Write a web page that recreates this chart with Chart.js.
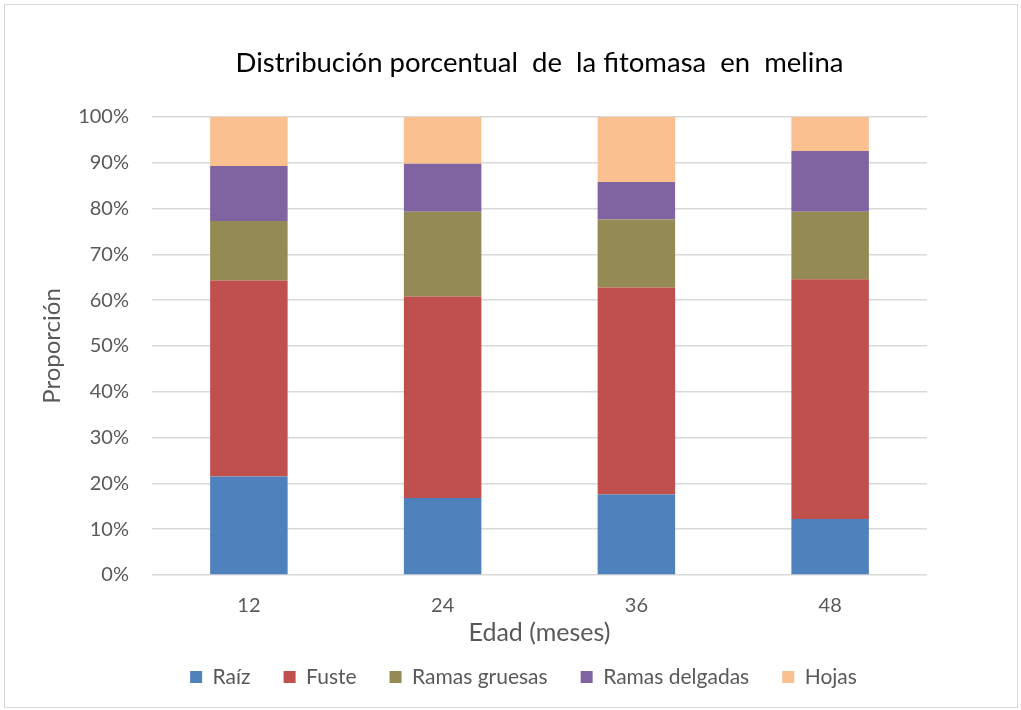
<!DOCTYPE html>
<html>
<head>
<meta charset="utf-8">
<script src="https://cdn.jsdelivr.net/npm/chart.js@4/dist/chart.umd.min.js"></script>
<style>
  html, body { margin: 0; padding: 0; background: #fff; }
  #wrap { width: 1021px; height: 710px; position: relative; }
</style>
</head>
<body>
<div id="wrap"><canvas id="c" width="1021" height="710"></canvas></div>
<script>
const categories = ['12', '24', '36', '48'];
const raiz          = [21.5, 16.8, 17.6, 12.2];
const fuste         = [42.8, 44.0, 45.2, 52.4];
const ramasGruesas  = [13.0, 18.5, 14.8, 14.7];
const ramasDelgadas = [12.0, 10.5,  8.2, 13.3];
const hojas         = [10.7, 10.2, 14.2,  7.4];
const seriesNames   = ['Raíz', 'Fuste', 'Ramas gruesas', 'Ramas delgadas', 'Hojas'];
const seriesColors  = ['#4f81bd', '#c0504d', '#948a54', '#8064a2', '#fac090'];
const chartTitle = 'Distribución porcentual  de  la fitomasa  en  melina';
const xTitle = 'Edad (meses)';
const yTitle = 'Proporción';

const FONT = 'Lato, "Open Sans", sans-serif';
const GREY = '#595959';

const borderPlugin = {
  id: 'outerBorder',
  beforeDraw(chart) {
    const ctx = chart.ctx;
    ctx.save();
    ctx.fillStyle = '#fff';
    ctx.fillRect(0, 0, chart.width, chart.height);
    ctx.strokeStyle = '#d9d9d9';
    ctx.lineWidth = 1;
    ctx.strokeRect(4.5, 4.5, 1013, 703);
    ctx.restore();
  }
};

const allSeries = [raiz, fuste, ramasGruesas, ramasDelgadas, hojas];

new Chart(document.getElementById('c'), {
  type: 'bar',
  data: {
    labels: categories,
    datasets: allSeries.map((d, i) => ({
      label: seriesNames[i],
      data: d,
      backgroundColor: seriesColors[i],
      borderWidth: 0,
      categoryPercentage: 0.4,
      barPercentage: 1.0
    }))
  },
  options: {
    responsive: false,
    animation: false,
    devicePixelRatio: 1,
    layout: { padding: { left: 26, right: 0, top: 0, bottom: 12.5 } },
    plugins: {
      tooltip: { enabled: false },
      title: {
        display: true,
        text: chartTitle,
        fullSize: false,
        color: '#000',
        font: { family: FONT, size: 27.5, weight: 'normal' },
        padding: { top: 46.5, bottom: 37.5 }
      },
      legend: {
        position: 'bottom',
        labels: {
          color: GREY,
          font: { family: FONT, size: 21 },
          boxWidth: 12,
          boxHeight: 12,
          padding: 33
        }
      }
    },
    scales: {
      x: {
        stacked: true,
        grid: { display: false, drawTicks: false },
        border: { display: false },
        ticks: { color: GREY, font: { family: FONT, size: 20 }, padding: 19 },
        title: {
          display: true, text: xTitle, color: GREY,
          font: { family: FONT, size: 25 },
          padding: { top: -19, bottom: -14.5 }
        }
      },
      y: {
        stacked: true,
        min: 0, max: 100,
        grid: { color: '#d9d9d9', lineWidth: 1.5, drawTicks: false },
        border: { display: false },
        ticks: {
          stepSize: 10, color: GREY, padding: 23,
          font: { family: FONT, size: 20 },
          callback: v => v + '%'
        },
        title: {
          display: true, text: yTitle, color: GREY,
          font: { family: FONT, size: 24 },
          padding: { top: 11.5, bottom: 0 }
        },
        afterFit: s => { s.width = 126; }
      },
      yRight: {
        position: 'right',
        display: true,
        grid: { display: false, drawTicks: false },
        border: { display: false },
        ticks: { display: false },
        afterFit: s => { s.width = 94; }
      }
    }
  },
  plugins: [borderPlugin]
});
</script>
</body>
</html>
